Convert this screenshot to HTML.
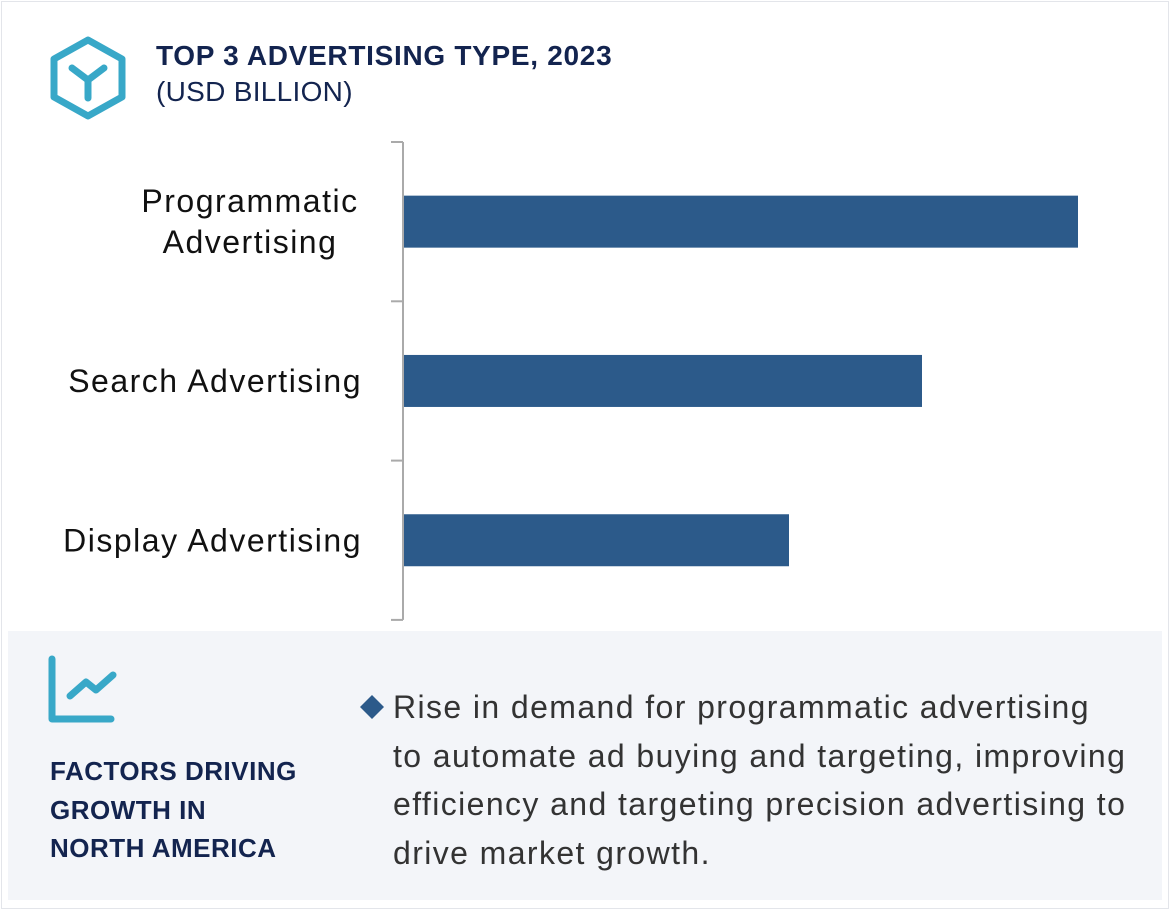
<!DOCTYPE html>
<html><head><meta charset="utf-8"><style>
body{margin:0;width:1170px;height:910px;background:#fff;font-family:"Liberation Sans",sans-serif;overflow:hidden;position:relative}
.frame{position:absolute;left:1px;top:1px;width:1166px;height:906px;border:1px solid #e3e5ea}
.t1{position:absolute;left:156px;top:40px;font-size:28px;font-weight:bold;color:#13244f;letter-spacing:0.7px}
.t2{position:absolute;left:156px;top:76px;font-size:28px;color:#13244f;letter-spacing:0.3px}
.panel{position:absolute;left:8px;top:631px;width:1154px;height:269px;background:#f3f5f9}
.ftitle{position:absolute;left:50px;top:752px;font-size:26px;font-weight:bold;color:#13244f;line-height:38.5px;letter-spacing:0.5px}
.bullet{position:absolute;left:393px;top:683px;font-size:32px;color:#333;line-height:48.5px;width:780px;letter-spacing:1.4px;white-space:nowrap}
</style></head><body>
<div class="frame"></div>
<svg style="position:absolute;left:48px;top:35px" width="80" height="86" viewBox="0 0 80 86">
<polygon points="40,5 74,24 74,62 40,81 6,62 6,24" fill="none" stroke="#38a8c8" stroke-width="7" stroke-linejoin="round"/>
<path d="M24,33 L40,45 L56,33 M40,45 L40,63" fill="none" stroke="#38a8c8" stroke-width="7" stroke-linecap="round"/>
</svg>
<div class="t1">TOP 3 ADVERTISING TYPE, 2023</div>
<div class="t2">(USD BILLION)</div>
<svg id="chart" style="position:absolute;left:0;top:0" width="1170" height="630"></svg>
<div class="panel"></div>
<svg style="position:absolute;left:48px;top:655px" width="72" height="70" viewBox="0 0 72 70">
<path d="M4,4 L4,64 L63,64" fill="none" stroke="#38a8c8" stroke-width="7" stroke-linecap="round" stroke-linejoin="round"/>
<path d="M22,41 L38,27 L48,35 L65,20" fill="none" stroke="#38a8c8" stroke-width="7" stroke-linecap="round" stroke-linejoin="round"/>
</svg>
<div class="ftitle">FACTORS DRIVING<br>GROWTH IN<br>NORTH AMERICA</div>
<svg style="position:absolute;left:359px;top:694px" width="28" height="28"><polygon points="13,1 25,13 13,25 1,13" fill="#2c5a8a"/></svg>
<div class="bullet">Rise in demand for programmatic advertising<br>to automate ad buying and targeting, improving<br>efficiency and targeting precision advertising to<br>drive market growth.</div>
<script>
const categories=[["Programmatic","Advertising"],["Search Advertising"],["Display Advertising"]];
const values=[67.4,51.8,38.5];
const svg=document.getElementById('chart');
const NS='http://www.w3.org/2000/svg';
const x0=404,scale=10,top0=142,bandH=159.3;
function x(v){return x0+v*scale;}
function yBand(i){return top0+i*bandH;}
function mk(t,a){const e=document.createElementNS(NS,t);for(const k in a)e.setAttribute(k,a[k]);svg.appendChild(e);return e;}
const ax=mk('line',{x1:403,x2:403,y1:top0,y2:top0+bandH*3,stroke:'#aaa','stroke-width':2});


for(let i=0;i<=3;i++){const t=mk('line',{x1:391,x2:403,y1:yBand(i),y2:yBand(i),stroke:'#aaa','stroke-width':2});

}
values.forEach((v,i)=>{
const cy=yBand(i)+bandH/2;
const r=mk('rect',{x:x0,y:cy-26,width:x(v)-x0,height:52,fill:'#2c5a8a'});


const lines=categories[i];
lines.forEach((s,j)=>{
const ty=cy+11+(j-(lines.length-1)/2)*41;
const t=mk('text',{x:lines.length>1?250:362,y:ty,'text-anchor':lines.length>1?'middle':'end','font-size':32,'letter-spacing':1.5,fill:'#111','font-family':'Liberation Sans, sans-serif'});
t.textContent=s;


});
});
</script>
</body></html>
